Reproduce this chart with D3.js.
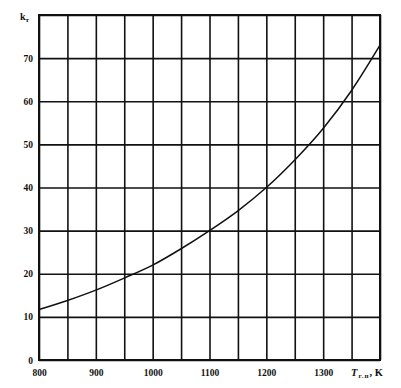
<!DOCTYPE html>
<html>
<head>
<meta charset="utf-8">
<script src="https://cdn.jsdelivr.net/npm/d3@7"></script>
<style>
  body { margin: 0; background: #fff; }
  svg text { font-family: "Liberation Serif", "DejaVu Serif", serif; font-weight: bold; fill: #111; }
  .grid line { stroke: #111; stroke-width: 1.6; }
  .grid path { display: none; }
</style>
</head>
<body>
<svg width="401" height="388"></svg>
<script>
// temperature, K
const temps = [800, 850, 900, 950, 1000, 1050, 1100, 1150, 1200, 1250, 1300, 1350, 1400]
// coefficient k
const kValues = [11.7, 13.8, 16.2, 19.0, 22.0, 25.8, 30.0, 34.6, 40.0, 46.4, 53.7, 62.5, 73.0]

const xTicks = d3.range(800, 1401, 50)
const yTicks = d3.range(0, 81, 10)

const margin = {top: 15, right: 21, bottom: 28, left: 39}
const width = 401, height = 388

const svg = d3.select('svg')

const x = d3.scaleLinear()
    .domain([800, 1400])
    .range([margin.left, width - margin.right])
const y = d3.scaleLinear()
    .domain([0, 80])
    .range([height - margin.bottom, margin.top])

// vertical grid lines + x labels
const xAxis = d3.axisBottom(x)
    .tickValues(xTicks)
    .tickSize(-(y(0) - y(80)))
    .tickPadding(9)
    .tickFormat(d => (d % 100 === 0 && d < 1400) ? d : '')
svg.append('g')
    .attr('class', 'grid')
    .attr('transform', `translate(0, ${y(0)})`)
    .call(xAxis)
    .selectAll('text')
    .attr('font-size', 9.5)

// horizontal grid lines + y labels
const yAxis = d3.axisLeft(y)
    .tickValues(yTicks)
    .tickSize(-(x(1400) - x(800)))
    .tickPadding(6)
    .tickFormat(d => d < 80 ? d : '')
svg.append('g')
    .attr('class', 'grid')
    .attr('transform', `translate(${x(800)}, 0)`)
    .call(yAxis)
    .selectAll('text')
    .attr('font-size', 9.5)

// frame
svg.append('rect')
    .attr('x', x(800))
    .attr('y', y(80))
    .attr('width', x(1400) - x(800))
    .attr('height', y(0) - y(80))
    .attr('fill', 'none')
    .attr('stroke', '#111')
    .attr('stroke-width', 2)

// curve
const line = d3.line()
    .x((d, i) => x(temps[i]))
    .y(d => y(d))
    .curve(d3.curveMonotoneX)
svg.append('path')
    .datum(kValues)
    .attr('d', line)
    .attr('fill', 'none')
    .attr('stroke', '#111')
    .attr('stroke-width', 1.5)

// axis titles
const yt = svg.append('text')
    .attr('x', 20)
    .attr('y', y(80) + 5)
    .attr('font-size', 10)
yt.append('tspan').text('k')
yt.append('tspan').attr('font-size', 7).attr('dy', 2).text('т')

const xt = svg.append('text')
    .attr('x', 351)
    .attr('y', y(0) + 16)
    .attr('font-size', 10.5)
xt.append('tspan').attr('font-style', 'italic').text('T')
xt.append('tspan').attr('font-size', 7).attr('dy', 2).attr('dx', 1)
    .attr('letter-spacing', 1).text('г.п')
xt.append('tspan').attr('dy', -2).text(', K')
</script>
</body>
</html>
